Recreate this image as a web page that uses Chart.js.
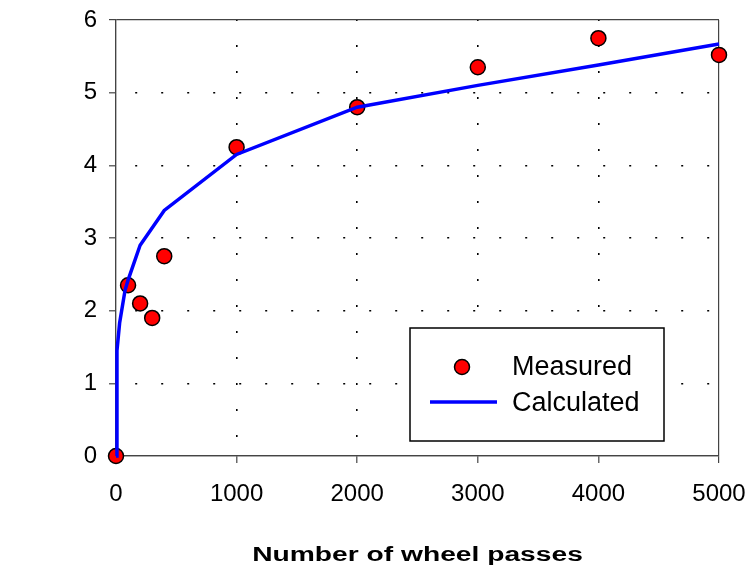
<!DOCTYPE html>
<html>
<head>
<meta charset="utf-8">
<script src="https://cdn.jsdelivr.net/npm/chart.js@4/dist/chart.umd.min.js"></script>
<style>
  html, body { margin: 0; padding: 0; background: #fff; }
  #wrap { width: 752px; height: 570px; }
</style>
</head>
<body>
<div id="wrap"><canvas id="chart" width="752" height="570"></canvas></div>
<script>
// Valeurs
const measuredPasses = [0, 100, 200, 300, 400, 1000, 2000, 3000, 4000, 5000];
const measuredValues = [0, 2.35, 2.1, 1.9, 2.75, 4.25, 4.8, 5.35, 5.75, 5.52];
const calcPasses = [0, 8, 30, 75, 100, 200, 400, 1000, 2000, 3000, 4000, 5000];
const calcValues = [0, 1.45, 1.83, 2.28, 2.42, 2.9, 3.38, 4.15, 4.8, 5.1, 5.38, 5.67];
const xTickValues = [0, 1000, 2000, 3000, 4000, 5000];
const yTickValues = [0, 1, 2, 3, 4, 5, 6];
const seriesNames = ["Measured", "Calculated"];
const xTitle = "Number of wheel passes";

const FONT = "'Liberation Sans', Arial, sans-serif";
const EDGE = "#444";

// Lignes de grille : pointillés à l'intérieur, traits pleins sur le bord du cadre
function isEdge(ctx, min, max) {
    const v = ctx.tick ? ctx.tick.value : null;
    return v === min || v === max;
}

// Titre de l'axe X (texte étiré horizontalement comme dans l'original)
const axisTitlePlugin = {
    id: "axisTitle",
    afterDraw(chart) {
        const { ctx, chartArea } = chart;
        ctx.save();
        ctx.font = "bold 20px " + FONT;
        ctx.fillStyle = "#000";
        ctx.textAlign = "center";
        ctx.textBaseline = "middle";
        ctx.translate((chartArea.left + chartArea.right) / 2, 555);
        ctx.scale(1.41, 1);
        ctx.fillText(xTitle, 0, 0);
        ctx.restore();
    }
};

// Légende encadrée dans la zone du graphique (en bas à droite)
const boxLegendPlugin = {
    id: "boxLegend",
    afterDatasetsDraw(chart) {
        const { ctx, chartArea } = chart;
        const [measured, calculated] = chart.data.datasets;
        const w = 254, h = 113;
        const x0 = chartArea.right - 55 - w;
        const y0 = chartArea.bottom - 15 - h;

        ctx.save();
        ctx.fillStyle = "#fff";
        ctx.fillRect(x0, y0, w, h);
        ctx.strokeStyle = "#000";
        ctx.lineWidth = 1.5;
        ctx.strokeRect(x0, y0, w, h);

        // Measured : rond rouge
        ctx.beginPath();
        ctx.arc(x0 + 52, y0 + 39, measured.pointRadius, 0, Math.PI * 2);
        ctx.fillStyle = measured.pointBackgroundColor;
        ctx.fill();
        ctx.lineWidth = measured.pointBorderWidth;
        ctx.strokeStyle = measured.pointBorderColor;
        ctx.stroke();

        // Calculated : trait bleu
        ctx.beginPath();
        ctx.moveTo(x0 + 20, y0 + 74);
        ctx.lineTo(x0 + 87, y0 + 74);
        ctx.lineWidth = calculated.borderWidth;
        ctx.strokeStyle = calculated.borderColor;
        ctx.stroke();

        ctx.font = "27px " + FONT;
        ctx.fillStyle = "#000";
        ctx.textAlign = "left";
        ctx.textBaseline = "middle";
        ctx.fillText(measured.label, x0 + 102, y0 + 40);
        ctx.fillText(calculated.label, x0 + 102, y0 + 76);
        ctx.restore();
    }
};

new Chart(document.getElementById("chart"), {
    type: "scatter",
    data: {
        datasets: [
            {
                label: seriesNames[0],
                data: measuredPasses.map((x, i) => ({ x: x, y: measuredValues[i] })),
                pointRadius: 7.5,
                pointBackgroundColor: "#ff0000",
                pointBorderColor: "#000",
                pointBorderWidth: 1.5,
                showLine: false,
                clip: false,
                order: 2
            },
            {
                label: seriesNames[1],
                data: calcPasses.map((x, i) => ({ x: x, y: calcValues[i] })),
                showLine: true,
                borderColor: "#0000ff",
                borderWidth: 3.5,
                pointRadius: 0,
                tension: 0,
                clip: false,
                order: 1
            }
        ]
    },
    options: {
        responsive: false,
        animation: false,
        layout: { padding: { top: 20, right: 33, bottom: 0, left: 0 } },
        plugins: {
            legend: { display: false },
            tooltip: { enabled: false }
        },
        scales: {
            x: {
                type: "linear",
                min: 0,
                max: 5000,
                afterBuildTicks: (scale) => { scale.ticks = xTickValues.map(v => ({ value: v })); },
                afterFit: (scale) => {
                    scale.height = 114;
                    scale.paddingLeft = 0;
                    scale.paddingRight = 0;
                },
                ticks: {
                    color: "#000",
                    font: { family: FONT, size: 24 },
                    padding: 17,
                    maxRotation: 0,
                    autoSkip: false,
                    callback: (v) => String(v)
                },
                grid: {
                    color: (ctx) => isEdge(ctx, 0, 5000) ? EDGE : "#000",
                    lineWidth: (ctx) => isEdge(ctx, 0, 5000) ? 1.2 : 1.6,
                    tickColor: EDGE,
                    tickWidth: 1.2,
                    tickLength: 7
                },
                border: {
                    color: EDGE,
                    width: 1.2,
                    dash: (ctx) => isEdge(ctx, 0, 5000) ? [] : [2, 24],
                    dashOffset: 1
                }
            },
            y: {
                type: "linear",
                min: 0,
                max: 6,
                afterBuildTicks: (scale) => { scale.ticks = yTickValues.map(v => ({ value: v })); },
                afterFit: (scale) => {
                    scale.width = 116;
                    scale.paddingTop = 0;
                    scale.paddingBottom = 0;
                },
                ticks: {
                    color: "#000",
                    font: { family: FONT, size: 24 },
                    padding: 12
                },
                grid: {
                    color: (ctx) => isEdge(ctx, 0, 6) ? EDGE : "#000",
                    lineWidth: (ctx) => isEdge(ctx, 0, 6) ? 1.2 : 1.6,
                    tickColor: EDGE,
                    tickWidth: 1.2,
                    tickLength: 7
                },
                border: {
                    color: EDGE,
                    width: 1.2,
                    dash: (ctx) => isEdge(ctx, 0, 6) ? [] : [2, 24],
                    dashOffset: 7
                }
            }
        }
    },
    plugins: [boxLegendPlugin, axisTitlePlugin]
});
</script>
</body>
</html>
